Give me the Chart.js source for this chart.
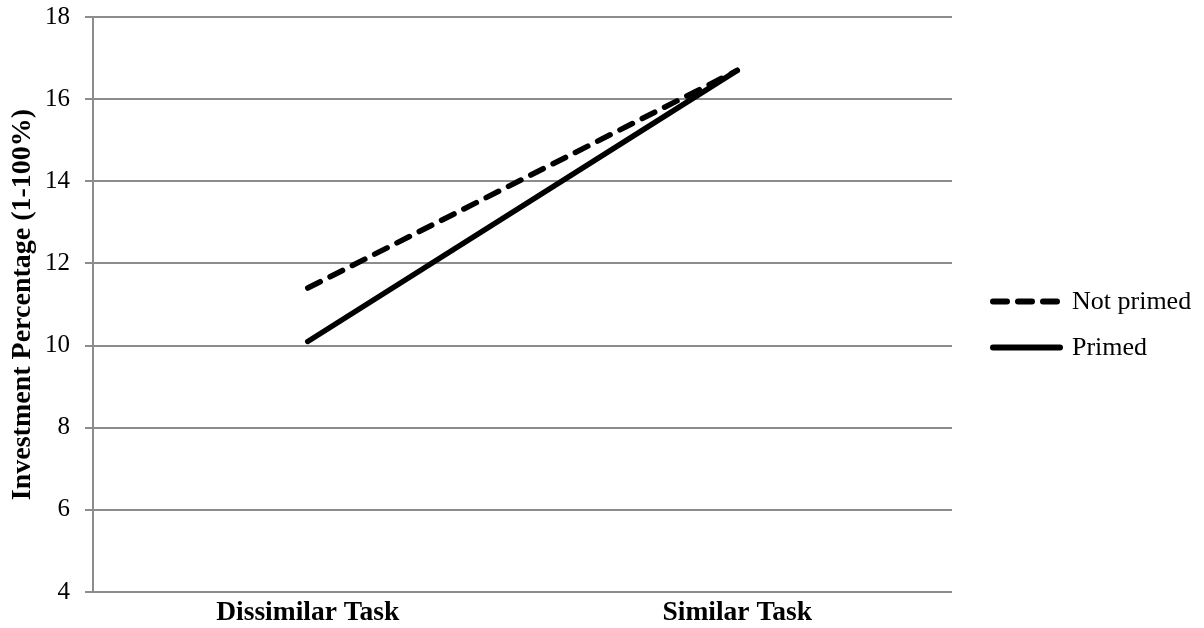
<!DOCTYPE html>
<html lang="en">
<head>
    <meta charset="UTF-8">
    <title>Investment Percentage by Task</title>
    <script src="https://cdn.jsdelivr.net/npm/chart.js"></script>
    <style>
        body {
            margin: 0;
            padding: 0;
            background: #ffffff;
        }
        .chart-box {
            width: 1204px;
            height: 628px;
        }
    </style>
</head>
<body>
    <div class="chart-box">
        <canvas id="taskChart"></canvas>
    </div>

    <script>
        // data
        const categories = ['Dissimilar Task', 'Similar Task'];
        const notPrimed = [11.4, 16.7];
        const primed = [10.1, 16.7];
        const yTicks = [4, 6, 8, 10, 12, 14, 16, 18];

        const gridGray = '#8c8c8c';
        const serif = "'Liberation Serif', 'Times New Roman', serif";

        // legend on the right, drawn from the datasets' own styles
        const sideLegend = {
            id: 'sideLegend',
            afterDraw(chart) {
                const { ctx, chartArea } = chart;
                const x0 = chartArea.right + 41;
                const lineW = 67;
                let y = (chartArea.top + chartArea.bottom) / 2 - 3;
                ctx.save();
                ctx.font = '26px ' + serif;
                ctx.textBaseline = 'middle';
                ctx.fillStyle = '#000000';
                chart.data.datasets.forEach(ds => {
                    ctx.beginPath();
                    ctx.strokeStyle = ds.borderColor;
                    ctx.lineWidth = ds.borderWidth + 0.5;
                    ctx.lineCap = 'round';
                    ctx.setLineDash(ds.borderDash || []);
                    ctx.moveTo(x0, y);
                    ctx.lineTo(x0 + lineW, y);
                    ctx.stroke();
                    ctx.setLineDash([]);
                    ctx.fillText(ds.label, x0 + lineW + 12, y + 1);
                    y += 46;
                });
                ctx.restore();
            }
        };

        const ctx = document.getElementById('taskChart').getContext('2d');
        const taskChart = new Chart(ctx, {
            type: 'line',
            data: {
                labels: categories,
                datasets: [
                    {
                        label: 'Not primed',
                        data: notPrimed,
                        borderColor: '#000000',
                        borderWidth: 5.5,
                        borderDash: [14, 11],
                        borderCapStyle: 'round',
                        pointRadius: 0,
                        tension: 0
                    },
                    {
                        label: 'Primed',
                        data: primed,
                        borderColor: '#000000',
                        borderWidth: 5.5,
                        borderCapStyle: 'round',
                        pointRadius: 0,
                        tension: 0
                    }
                ]
            },
            plugins: [sideLegend],
            options: {
                responsive: true,
                maintainAspectRatio: false,
                animation: false,
                layout: {
                    padding: { top: 17, right: 252, bottom: 0, left: 0 }
                },
                plugins: {
                    legend: { display: false },
                    tooltip: { enabled: false }
                },
                scales: {
                    x: {
                        offset: true,
                        grid: { display: false, drawTicks: false },
                        border: { display: false },
                        ticks: {
                            color: '#000000',
                            padding: 4,
                            font: { family: serif, size: 27.5, weight: 'bold' }
                        },
                        afterFit: (scale) => {
                            scale.height = 36;
                            scale.paddingLeft = 0;
                            scale.paddingRight = 0;
                        }
                    },
                    y: {
                        min: yTicks[0],
                        max: yTicks[yTicks.length - 1],
                        afterBuildTicks: (scale) => {
                            scale.ticks = yTicks.map(v => ({ value: v }));
                        },
                        grid: {
                            color: gridGray,
                            lineWidth: 2,
                            tickLength: 8
                        },
                        border: { display: true, color: gridGray, width: 2 },
                        ticks: {
                            color: '#000000',
                            padding: 15,
                            font: { family: serif, size: 25 }
                        },
                        title: {
                            display: true,
                            text: 'Investment Percentage (1-100%)',
                            color: '#000000',
                            padding: { top: 6, bottom: 0 },
                            font: { family: serif, size: 28, weight: 'bold' }
                        },
                        afterFit: (scale) => {
                            scale.width = 93;
                            scale.paddingTop = 0;
                            scale.paddingBottom = 0;
                        }
                    }
                }
            }
        });
    </script>
</body>
</html>
